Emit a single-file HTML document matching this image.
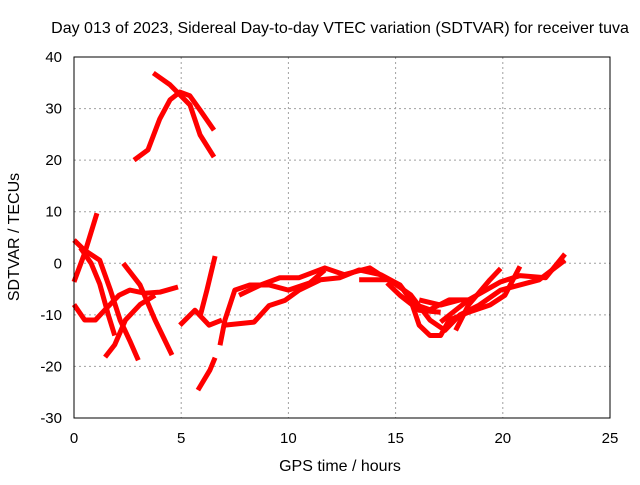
<!DOCTYPE html>
<html><head><meta charset="utf-8"><style>
body{margin:0;background:#fff;}
svg text{font-family:"Liberation Sans",sans-serif;font-size:15px;fill:#000;}
svg text.lbl{font-size:16px;}
</style></head><body>
<svg id="chart" width="640" height="480">
<text class="lbl" x="340" y="33" text-anchor="middle">Day 013 of 2023, Sidereal Day-to-day VTEC variation (SDTVAR) for receiver tuva</text>
<text class="lbl" x="340" y="471" text-anchor="middle">GPS time / hours</text>
<text class="lbl" transform="translate(19,237) rotate(-90)" text-anchor="middle">SDTVAR / TECUs</text>
<g id="grid"></g><g id="series"></g>
<rect x="74" y="57" width="536" height="361" fill="none" stroke="#000" stroke-width="1"/>
<g id="ticks"></g>
</svg>
<script>
const xTicks=[0,5,10,15,20,25];
const yTicks=[-30,-20,-10,0,10,20,30,40];
const arcA=[[2.8,20],[3.45,22],[4.0,28],[4.48,31.7],[4.94,33.2],[5.4,32.5],[5.88,29.7],[6.53,25.8]];
const arcB=[[3.7,36.9],[4.48,34.6],[5.41,30.7],[5.88,24.9],[6.53,20.6]];
const arcC=[[0,-3.6],[0.5,2],[1.07,9.7]];
const arcD=[[0,4.5],[0.5,2.5],[1.2,0.6],[1.7,-5.2],[2.15,-11],[2.6,-15],[3.0,-18.8]];
const arcE=[[0,-8],[0.5,-11],[1,-11],[1.45,-9],[2.1,-6.2],[2.6,-5.2],[3.3,-5.8],[4,-5.6],[4.85,-4.6]];
const arcF=[[1.45,-18.2],[1.9,-15.8],[2.4,-11],[3.08,-8],[3.78,-6.2]];
const arcG=[[2.3,0],[3.08,-4.2],[3.78,-11],[4.57,-17.8]];
const arcH=[[0.3,3],[0.8,0],[1.2,-4],[1.6,-10],[1.9,-14]];
const arcI=[[4.94,-12],[5.64,-9.1],[6.3,-12],[6.9,-11]];
const arcJ=[[6.58,1.4],[6.2,-5.2],[5.9,-10]];
const arcK=[[5.78,-24.6],[6.34,-20.7],[6.58,-18.3]];
const arcL=[[6.81,-15.9],[7.04,-11],[7.5,-5.2],[8.2,-4.2],[9.1,-4.2],[10,-5.2],[11,-3.8],[11.7,-1.3]];
const arcM=[[7.04,-12],[8.4,-11.4],[9.1,-8.2],[9.84,-7.2],[10.5,-5.2],[11.5,-3.2],[12.4,-2.8],[13.3,-1.3],[14.3,-2.2],[15.2,-4.2],[15.9,-8],[16.6,-9],[17.5,-7.1],[18.4,-7.1]];
const arcN=[[7.7,-6.2],[8.7,-4.2],[9.6,-2.8],[10.5,-2.8],[11.7,-0.9],[12.6,-2.2],[13.8,-0.9],[14.5,-2.8],[15.2,-4.2],[15.7,-7.1],[16.1,-12],[16.6,-14],[17.1,-14],[17.5,-11],[18.4,-9.5],[19.4,-8.1],[20.1,-6.2],[20.8,-0.6]];
const arcO=[[13.3,-3.2],[14.7,-3.2],[15.7,-6.1],[16.6,-11],[17.3,-13],[18,-10],[18.9,-8.1],[19.9,-5.2],[20.8,-4.2],[21.7,-3.2],[22.9,0.6]];
const arcP=[[16.1,-7.1],[17.1,-8.1],[18,-7.1]];
const arcQ=[[17.8,-13],[18.4,-8.1],[19.4,-3.2],[19.9,-1]];
const arcR=[[17.1,-11.4],[18.4,-7.1],[19.9,-3.6],[20.8,-2.4],[22,-2.8],[22.9,1.8]];
const arcS=[[14.6,-3.8],[15.2,-6.2],[16.1,-9.1],[17.1,-9.5]];
const allArcs=[arcA,arcB,arcC,arcD,arcE,arcF,arcG,arcH,arcI,arcJ,arcK,arcL,arcM,arcN,arcO,arcP,arcQ,arcR,arcS];
const NS="http://www.w3.org/2000/svg";
const X=h=>74+h*536/25, Y=v=>57+(40-v)*361/70;
const grid=document.getElementById('grid'), ticks=document.getElementById('ticks'), ser=document.getElementById('series');
xTicks.forEach(t=>{
 if(t>0&&t<25){const l=document.createElementNS(NS,'line');l.setAttribute('x1',X(t));l.setAttribute('x2',X(t));l.setAttribute('y1',57);l.setAttribute('y2',418);l.setAttribute('stroke','#a0a0a0');l.setAttribute('stroke-dasharray','2,3');
 
 grid.appendChild(l);}
 const tx=document.createElementNS(NS,'text');tx.setAttribute('x',X(t));tx.setAttribute('y',443);tx.setAttribute('text-anchor','middle');tx.textContent=t;
 
 ticks.appendChild(tx);
});
yTicks.forEach(t=>{
 if(t>-30&&t<40){const l=document.createElementNS(NS,'line');l.setAttribute('x1',74);l.setAttribute('x2',610);l.setAttribute('y1',Y(t));l.setAttribute('y2',Y(t));l.setAttribute('stroke','#a0a0a0');l.setAttribute('stroke-dasharray','2,3');
 
 grid.appendChild(l);}
 const tx=document.createElementNS(NS,'text');tx.setAttribute('x',62);tx.setAttribute('y',Y(t)+5);tx.setAttribute('text-anchor','end');tx.textContent=t;
 
 ticks.appendChild(tx);
});
allArcs.forEach(a=>{
 const p=document.createElementNS(NS,'polyline');
 p.setAttribute('points',a.map(d=>X(d[0])+','+Y(d[1])).join(' '));
 p.setAttribute('fill','none');p.setAttribute('stroke','#ff0000');p.setAttribute('stroke-width','5');p.setAttribute('stroke-linejoin','round');
 
 
 ser.appendChild(p);
});
</script>
</body></html>
